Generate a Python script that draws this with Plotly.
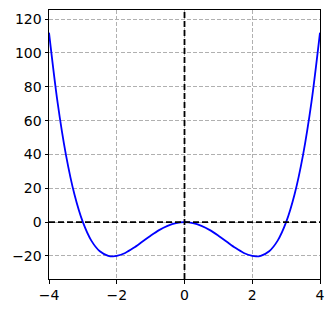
import plotly.graph_objects as go

x_vals = [-4, -3.75, -3.5, -3.25, -3, -2.75, -2.5, -2.25, -2.12, -2, -1.75, -1.5, -1.25, -1, -0.75, -0.5, -0.25, 0,
          0.25, 0.5, 0.75, 1, 1.25, 1.5, 1.75, 2, 2.12, 2.25, 2.5, 2.75, 3, 3.25, 3.5, 3.75, 4]
y_vals = [112, 71.2, 39.8, 16.5, 0, -10.9, -17.2, -19.9, -20.25, -20, -18.2, -15.2, -11.6, -8, -4.7, -2.2, -0.56, 0,
          -0.56, -2.2, -4.7, -8, -11.6, -15.2, -18.2, -20, -20.25, -19.9, -17.2, -10.9, 0, 16.5, 39.8, 71.2, 112]
x_ticks = [-4, -2, 0, 2, 4]
y_ticks = [-20, 0, 20, 40, 60, 80, 100, 120]
x_range = [-4, 4]
y_range = [-33.6, 125.4]

fig = go.Figure()
fig.add_trace(go.Scatter(x=x_vals, y=y_vals, mode="lines", line=dict(color="blue", width=1.8, shape="spline", smoothing=0.8),
                         showlegend=False, hoverinfo="skip"))
fig.add_trace(go.Scatter(x=x_range, y=[0, 0], mode="lines", line=dict(color="black", width=1.8, dash="6px,3px"),
                         showlegend=False, hoverinfo="skip"))
fig.add_trace(go.Scatter(x=[0, 0], y=y_range, mode="lines", line=dict(color="black", width=1.8, dash="6px,3px"),
                         showlegend=False, hoverinfo="skip"))

axis_common = dict(showline=True, linecolor="black", linewidth=1, mirror=True, ticks="outside", ticklen=3.5,
                   tickwidth=1, tickcolor="black", showgrid=True, gridcolor="#b0b0b0", gridwidth=0.8,
                   griddash="4px,2px", zeroline=False, tickfont=dict(family="DejaVu Sans", size=14, color="black"))
fig.update_xaxes(range=x_range, tickvals=x_ticks, ticktext=["\u22124", "\u22122", "0", "2", "4"], **axis_common)
fig.update_yaxes(range=y_range, tickvals=y_ticks,
                 ticktext=["\u221220", "0", "20", "40", "60", "80", "100", "120"], **axis_common)
fig.update_layout(width=334, height=313, margin=dict(l=49, r=14, t=10, b=34), plot_bgcolor="white",
                  paper_bgcolor="white")
fig.write_html("out.html")
